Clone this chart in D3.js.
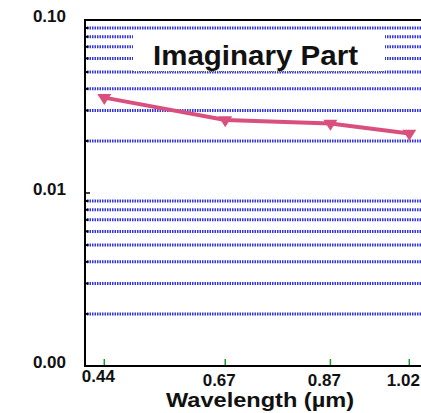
<!DOCTYPE html>
<html><head><meta charset="utf-8">
<script src="https://cdn.jsdelivr.net/npm/d3@7"></script>
<style>body{margin:0;background:#fff}svg{display:block}text{font-family:"Liberation Sans",Arial,sans-serif;font-weight:bold;fill:#111}</style>
</head><body>
<svg id="c" width="421" height="413"></svg>
<script>
const wavelengths = [0.44, 0.67, 0.87, 1.02];
const imaginaryPart = [0.0356, 0.0264, 0.0252, 0.0221];
const xTickLabels = ["0.44", "0.67", "0.87", "1.02"];
const yMajorTicks = [0.1, 0.01, 0.001];
const yTickLabels = ["0.10", "0.01", "0.00"];
const legendLabel = "Imaginary Part";
const xTitle = "Wavelength (\u00b5m)";

(function () {
const svg = d3.select("#c");
const pL = 85, pR = 421, pT = 20, pB = 366;
const x = d3.scaleLinear().domain([0.44, 1.02]).range([104.3, 409.3]);
const y = d3.scaleLog().domain([0.001, 0.1]).range([pB, pT]);

// minor gridlines (log minor ticks, excluding decades)
const minor = [];
[0.001, 0.01].forEach(d => { for (let k = 2; k <= 9; k++) minor.push(+(d * k).toPrecision(3)); });

svg.append("g").selectAll("line").data(minor).join("line")
  .attr("x1", pL + 2).attr("x2", pR)
  .attr("y1", d => y(d)).attr("y2", d => y(d))
  .attr("stroke", "#3434dc").attr("stroke-width", 3).attr("stroke-dasharray", "1.5,1");

// legend box
svg.append("rect").attr("x", 133).attr("y", 30).attr("width", 252).attr("height", 41.5).attr("fill", "#fff");
svg.append("line").attr("x1", 133).attr("x2", 385).attr("y1", 71.5).attr("y2", 71.5)
  .attr("stroke", "#555").attr("stroke-width", 1).attr("stroke-dasharray", "1,1");
svg.append("text").attr("x", 255.5).attr("y", 65).attr("text-anchor", "middle")
  .attr("font-size", 28).attr("textLength", 205).attr("lengthAdjust", "spacingAndGlyphs").text(legendLabel);

// frame
svg.append("line").attr("x1", pL).attr("x2", pR).attr("y1", pT).attr("y2", pT).attr("stroke", "#000").attr("stroke-width", 2);
svg.append("line").attr("x1", pL).attr("x2", pR).attr("y1", pB).attr("y2", pB).attr("stroke", "#000").attr("stroke-width", 2);
svg.append("line").attr("x1", pL).attr("x2", pL).attr("y1", pT - 1).attr("y2", pB + 1).attr("stroke", "#000").attr("stroke-width", 2);

// y ticks
svg.append("g").selectAll("line").data(minor).join("line")
  .attr("x1", pL).attr("x2", pL + 3.5).attr("y1", d => y(d)).attr("y2", d => y(d))
  .attr("stroke", "#000").attr("stroke-width", 2);
svg.append("g").selectAll("line").data(yMajorTicks.slice(0, 2)).join("line")
  .attr("x1", pL).attr("x2", pL + 5).attr("y1", d => y(d)).attr("y2", d => y(d))
  .attr("stroke", "#000").attr("stroke-width", 1.5);
svg.append("g").selectAll("text").data(yMajorTicks).join("text")
  .attr("x", 66).attr("y", d => y(d) + 2).attr("text-anchor", "end")
  .attr("font-size", 17).text((d, i) => yTickLabels[i]);

// x ticks (green, inward)
svg.append("g").selectAll("line").data(wavelengths).join("line")
  .attr("x1", d => x(d)).attr("x2", d => x(d)).attr("y1", pB - 1).attr("y2", pB - 7)
  .attr("stroke", "#1a9a2a").attr("stroke-width", 1.5);
svg.append("g").selectAll("text").data(wavelengths).join("text")
  .attr("x", d => x(d) - 6).attr("y", (d, i) => i === 0 ? 382.3 : 385.5).attr("text-anchor", "middle")
  .attr("font-size", 17).text((d, i) => xTickLabels[i]);

svg.append("text").attr("x", 260).attr("y", 406.7).attr("text-anchor", "middle")
  .attr("font-size", 20).attr("textLength", 188).attr("lengthAdjust", "spacingAndGlyphs").text(xTitle);

// data line + markers
const pts = wavelengths.map((w, i) => [w, imaginaryPart[i]]);
svg.append("path").datum(pts)
  .attr("d", d3.line().x(d => x(d[0])).y(d => y(d[1])))
  .attr("fill", "none").attr("stroke", "#d9507f").attr("stroke-width", 4);
svg.append("g").selectAll("path").data(pts).join("path")
  .attr("transform", d => `translate(${x(d[0])},${y(d[1])})`)
  .attr("d", "M-7,-3.7L7,-3.7L0,7.3Z").attr("fill", "#d9507f");
})();
</script>
</body></html>
